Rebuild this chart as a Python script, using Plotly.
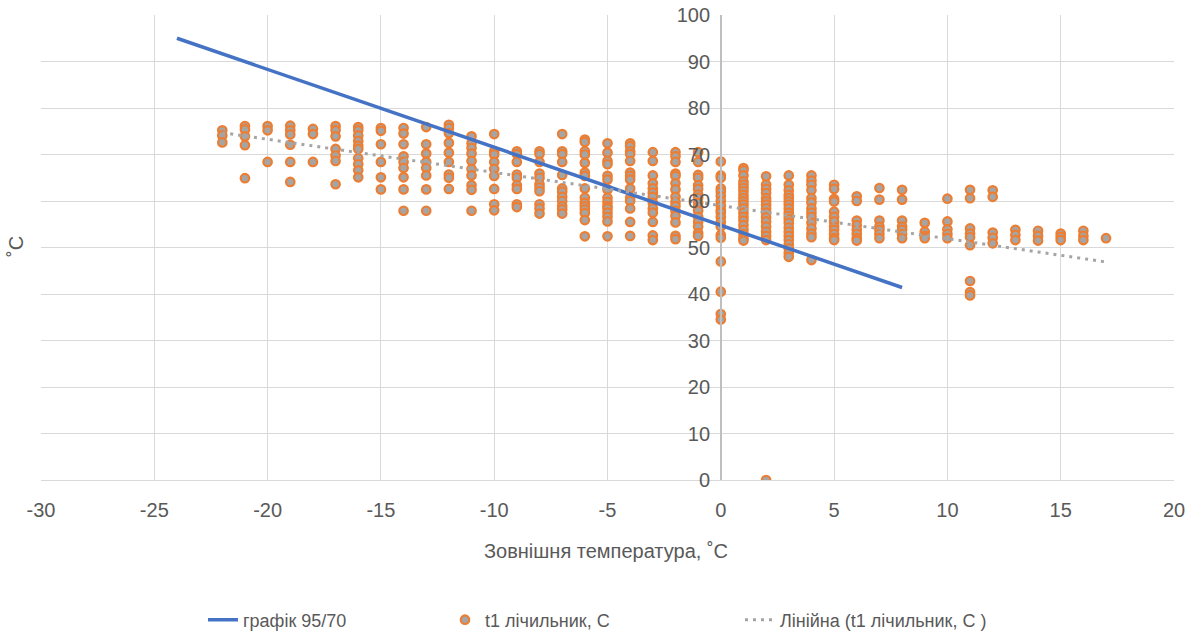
import plotly.graph_objects as go

# Heating schedule 95/70
schedule_temp = [-24, 8]
schedule_t = [95.0, 41.4]

# Linear trend of t1
trend_temp = [-22, 17]
trend_t = [74.7, 46.9]

# Outdoor temperatures and t1 readings at each temperature
temps = list(range(-22, 18))
t1_readings = [
    [75.2, 74.1, 72.6],                                                     # -22
    [76.1, 75.4, 73.9, 72.0, 64.9],                                         # -21
    [76.1, 75.2, 68.4],                                                     # -20
    [76.2, 75.2, 74.3, 72.1, 68.4, 64.1],                                   # -19
    [75.5, 74.4, 68.4],                                                     # -18
    [76.1, 75.2, 73.9, 71.2, 69.8, 68.6, 63.6],                             # -17
    [75.9, 75.2, 74.1, 72.9, 71.9, 71.2, 69.2, 67.9, 66.6, 65.1],           # -16
    [75.7, 75.1, 72.2, 68.4, 65.1, 62.5],                                   # -15
    [75.7, 74.5, 72.2, 69.6, 68.4, 67.1, 65.1, 62.5, 57.9],                 # -14
    [75.9, 72.2, 70.2, 68.4, 67.1, 65.5, 62.5, 57.9],                       # -13
    [76.4, 75.7, 74.6, 72.5, 70.4, 68.4, 65.7, 65.0, 62.6],                 # -12
    [73.9, 72.4, 71.4, 70.2, 68.6, 66.9, 65.5, 63.4, 62.4, 57.9],           # -11
    [74.4, 70.7, 70.0, 68.4, 66.9, 65.4, 62.6, 59.3, 58.0],                 # -10
    [70.7, 70.1, 68.4, 65.7, 65.0, 63.4, 62.6, 59.3, 58.7],                 # -9
    [70.7, 70.1, 68.4, 65.9, 65.0, 63.6, 62.9, 62.1, 59.3, 58.4, 57.3],     # -8
    [74.4, 70.7, 70.1, 68.4, 65.6, 62.7, 62.0, 60.9, 60.0, 58.9, 58.2, 57.3],  # -7
    [73.2, 72.7, 70.7, 70.0, 68.2, 66.1, 65.4, 62.7, 60.7, 59.6, 58.9, 58.2,
     57.4, 55.9, 52.4],                                                     # -6
    [72.4, 70.4, 68.6, 67.9, 65.4, 64.6, 62.5, 60.7, 59.8, 58.9, 58.4, 57.5,
     56.6, 55.6, 52.4],                                                     # -5
    [72.4, 71.8, 70.7, 70.1, 68.6, 66.1, 65.4, 64.6, 62.7, 60.7, 60.0, 58.4,
     55.5, 52.5],                                                           # -4
    [70.5, 68.6, 65.5, 63.8, 62.7, 61.8, 60.9, 59.6, 58.4, 57.5, 55.5, 52.6,
     51.6],                                                                 # -3
    [70.5, 69.6, 68.4, 65.9, 65.4, 63.8, 62.5, 60.9, 59.8, 58.9, 57.9, 56.8,
     55.4, 52.5, 51.8],                                                     # -2
    [70.5, 68.4, 65.6, 65.0, 63.4, 62.6, 61.4, 60.7, 59.6, 58.7, 57.9, 56.6,
     55.5, 54.5, 53.1, 52.5],                                               # -1
    [68.5, 65.5, 65.0, 62.7, 62.0, 61.0, 60.0, 59.0, 58.0, 57.5, 56.5, 55.5,
     54.5, 52.7, 52.1, 47.0, 40.5, 35.7, 34.5],                             # 0
    [67.1, 66.6, 65.5, 64.2, 63.5, 62.8, 62.1, 61.3, 60.6, 59.9, 59.2, 58.4,
     57.5, 56.6, 55.8, 54.8, 53.8, 52.9, 52.0, 51.5],                       # 1
    [65.3, 63.5, 62.6, 61.7, 60.6, 59.9, 59.2, 58.4, 57.5, 56.5, 55.6, 54.5,
     53.4, 52.5, 51.6, 0.0],                                                # 2
    [65.5, 63.5, 62.3, 61.3, 60.6, 59.9, 59.2, 58.4, 57.5, 56.8, 56.1, 55.3,
     54.3, 53.4, 52.5, 51.6, 50.7, 49.8, 48.8, 48.0],                       # 3
    [65.5, 64.4, 63.5, 62.3, 60.6, 59.7, 58.4, 57.5, 56.6, 55.3, 54.1, 53.0,
     52.2, 47.3],                                                           # 4
    [63.5, 62.6, 60.4, 59.9, 57.7, 56.6, 55.6, 54.5, 53.8, 52.9, 52.0, 51.6],  # 5
    [61.0, 60.0, 55.8, 54.8, 53.8, 52.9, 52.0, 51.5],                       # 6
    [62.8, 60.3, 55.8, 54.5, 53.8, 52.9, 52.0],                             # 7
    [62.4, 60.3, 55.8, 54.5, 53.8, 52.9, 52.0],                             # 8
    [55.3, 53.4, 52.5, 52.0],                                               # 9
    [60.5, 55.6, 53.9, 52.9, 52.0],                                         # 10
    [62.4, 60.6, 54.1, 53.0, 52.2, 50.5, 42.8, 40.4, 39.7],                 # 11
    [62.3, 60.9, 53.2, 52.1, 50.9],                                         # 12
    [53.8, 52.7, 51.6],                                                     # 13
    [53.6, 52.5, 51.5],                                                     # 14
    [53.0, 52.3, 51.6],                                                     # 15
    [53.6, 52.5, 51.6],                                                     # 16
    [52.0],                                                                 # 17
]

x_ticks = list(range(-30, 21, 5))
y_ticks = list(range(0, 101, 10))

scatter_x = []
scatter_y = []
for t, vals in zip(temps, t1_readings):
    for v in vals:
        scatter_x.append(t)
        scatter_y.append(v)

FONT = "Liberation Sans, Arial, sans-serif"
GREY_TXT = "#595959"
GRID = "#D9D9D9"

# plot area geometry (px)
W, H = 1203, 634
ML, MR, MT, MB = 41, 29, 15, 154
PW = W - ML - MR
PH = H - MT - MB


def px_to_paper_x(px):
    return (px - ML) / PW


def py_to_paper_y(py):
    return (H - MB - py) / PH


fig = go.Figure()

fig.add_trace(go.Scatter(
    x=scatter_x, y=scatter_y, mode="markers",
    name="t1 лічильник, C",
    marker=dict(size=8.5, color="#A5A5A5",
                line=dict(color="#ED7D31", width=2.2)),
    legend="legend2",
))

fig.add_trace(go.Scatter(
    x=schedule_temp, y=schedule_t, mode="lines",
    name="графік 95/70",
    line=dict(color="#4472C4", width=3.5),
    legend="legend",
))

fig.add_trace(go.Scatter(
    x=trend_temp, y=trend_t, mode="lines",
    name="Лінійна (t1 лічильник, C )",
    line=dict(color="#A5A5A5", width=3, dash="3px,5px"),
    legend="legend3",
))

leg_common = dict(orientation="h", yanchor="middle",
                  xref="container", yref="container",
                  y=(H - 620) / H, xanchor="left",
                  font=dict(family=FONT, size=18, color=GREY_TXT),
                  bgcolor="rgba(0,0,0,0)", borderwidth=0)

fig.update_layout(
    width=W, height=H,
    margin=dict(l=ML, r=MR, t=MT, b=MB),
    paper_bgcolor="white", plot_bgcolor="white",
    font=dict(family=FONT, size=20, color=GREY_TXT),
    showlegend=True,
    legend=dict(x=203 / W, **leg_common),
    legend2=dict(x=445 / W, **leg_common),
    legend3=dict(x=740 / W, **leg_common),
    xaxis=dict(
        range=[-30, 20], tickvals=x_ticks,
        ticktext=[str(v) for v in x_ticks],
        automargin=False,
        showgrid=True, gridcolor=GRID, gridwidth=1,
        zeroline=False, showline=False,
        ticks="outside", ticklen=12, tickcolor="rgba(0,0,0,0)",
        tickfont=dict(family=FONT, size=20, color=GREY_TXT),
    ),
    yaxis=dict(
        range=[0, 100], tickvals=y_ticks,
        ticktext=[str(v) for v in y_ticks],
        automargin=False,
        anchor="free", position=0.6,
        showgrid=True, gridcolor=GRID, gridwidth=1,
        zeroline=True, zerolinecolor=GRID, zerolinewidth=1,
        showline=True, linecolor="#BFBFBF", linewidth=1.5,
        ticks="outside", ticklen=6, tickcolor="rgba(0,0,0,0)",
        tickfont=dict(family=FONT, size=20, color=GREY_TXT),
    ),
    annotations=[
        dict(text="Зовнішня температура, ˚С", xref="paper", yref="paper",
             x=px_to_paper_x(606), y=py_to_paper_y(551),
             xanchor="center", yanchor="middle", showarrow=False,
             font=dict(family=FONT, size=20, color=GREY_TXT)),
        dict(text="˚C", xref="paper", yref="paper",
             x=px_to_paper_x(16), y=py_to_paper_y(247),
             xanchor="center", yanchor="middle", showarrow=False,
             textangle=-90,
             font=dict(family=FONT, size=20, color=GREY_TXT)),
    ],
)

fig.write_html("out.html")
